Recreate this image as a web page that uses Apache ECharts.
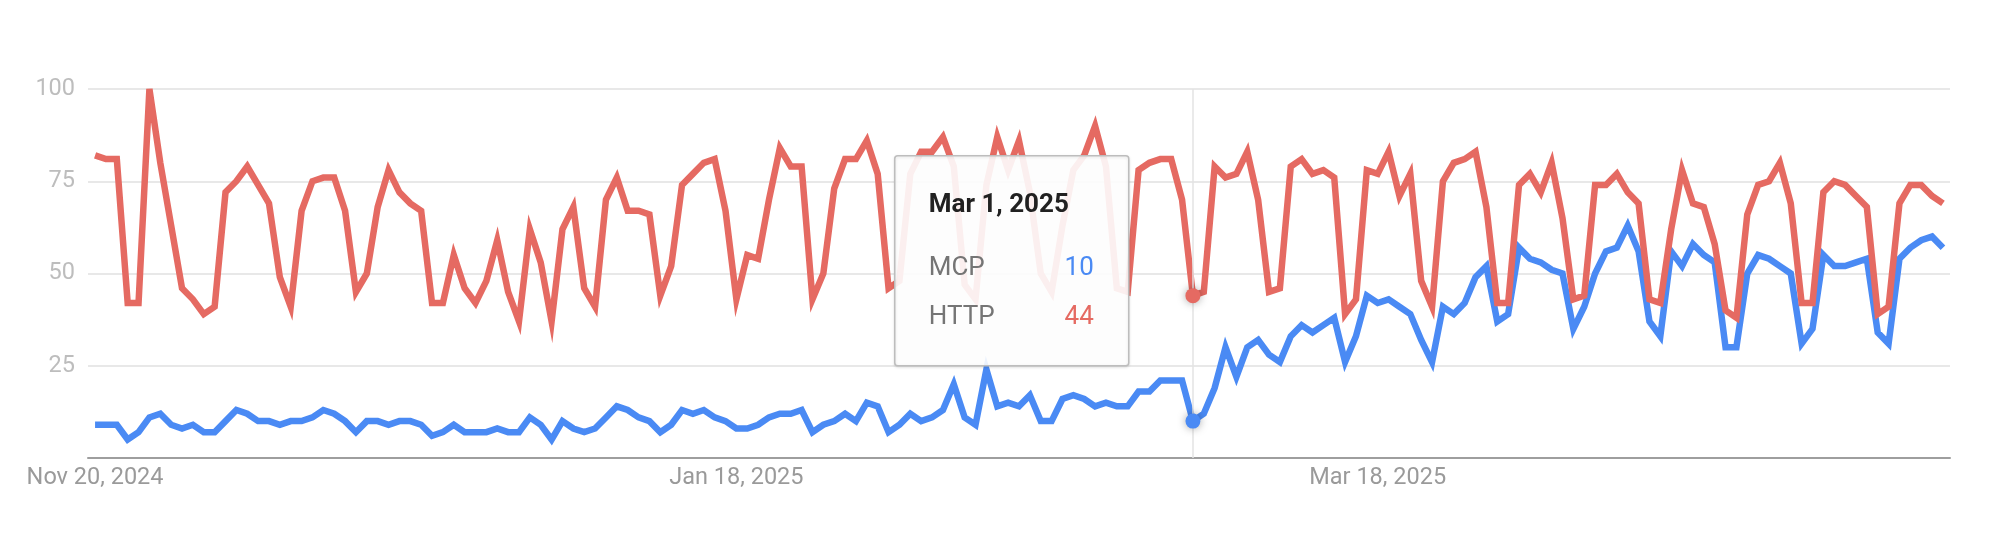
<!DOCTYPE html>
<html>
<head>
<meta charset="utf-8">
<script src="https://cdn.jsdelivr.net/npm/echarts@6/dist/echarts.min.js"></script>
<style>
html,body{margin:0;padding:0;background:#fff;}
#chart{width:1994px;height:534px;}
</style>
</head>
<body>
<div id="chart"></div>
<script>
// Daily categories: Nov 20, 2024 .. May 9, 2025
var START_DATE = '2024-11-20';
var DAY_COUNT = 171;
var MONTHS = ['Jan','Feb','Mar','Apr','May','Jun','Jul','Aug','Sep','Oct','Nov','Dec'];
var categories = [];
(function(){
  var d0 = new Date(START_DATE + 'T00:00:00Z');
  for (var i = 0; i < DAY_COUNT; i++) {
    var d = new Date(d0.getTime() + i * 86400000);
    categories.push(MONTHS[d.getUTCMonth()] + ' ' + d.getUTCDate() + ', ' + d.getUTCFullYear());
  }
})();

var labelledDates = ['Nov 20, 2024', 'Jan 18, 2025', 'Mar 18, 2025'];
var yTicks = [0, 25, 50, 75, 100];

var mcp = [
  9,9,9,5,7,11,12,9,8,9,
  7,7,10,13,12,10,10,9,10,10,
  11,13,12,10,7,10,10,9,10,10,
  9,6,7,9,7,7,7,8,7,7,
  11,9,5,10,8,7,8,11,14,13,
  11,10,7,9,13,12,13,11,10,8,
  8,9,11,12,12,13,7,9,10,12,
  10,15,14,7,9,12,10,11,13,20,
  11,9,24,14,15,14,17,10,10,16,
  17,16,14,15,14,14,18,18,21,21,
  21,10,12,19,30,22,30,32,28,26,
  33,36,34,36,38,26,33,44,42,43,
  41,39,32,26,41,39,42,49,52,37,
  39,57,54,53,51,50,35,41,50,56,
  57,63,56,37,33,56,52,58,55,53,
  30,30,50,55,54,52,50,31,35,55,
  52,52,53,54,34,31,54,57,59,60,57
];

var http = [
  82,81,81,42,42,100,80,63,46,43,
  39,41,72,75,79,74,69,49,41,67,
  75,76,76,67,45,50,68,78,72,69,
  67,42,42,55,46,42,48,59,45,37,
  62,53,37,62,68,46,41,70,76,67,
  67,66,44,52,74,77,80,81,67,43,
  55,54,70,84,79,79,43,50,73,81,
  81,86,77,46,48,77,83,83,87,79,
  47,43,74,87,78,86,72,50,45,63,
  78,82,90,79,46,45,78,80,81,81,
  70,44,45,79,76,77,83,70,45,46,
  79,81,77,78,76,39,43,78,77,83,
  71,77,48,41,75,80,81,83,68,42,
  42,74,77,72,80,65,43,44,74,74,
  77,72,69,43,42,62,78,69,68,58,
  40,38,66,74,75,80,69,42,42,72,
  75,74,71,68,39,41,69,74,74,71,69
];

var HOVER_DATE = 'Mar 1, 2025';
var hoverIndex = categories.indexOf(HOVER_DATE);

var BLUE = '#4a8af4';
var RED = '#e56a62';
var FONT = 'Roboto, "Noto Sans", Arial, sans-serif';

var labelIndices = labelledDates.map(function (s) { return categories.indexOf(s); });
function pairs(arr) { return arr.map(function (v, i) { return [i, v]; }); }

var chart = echarts.init(document.getElementById('chart'), null, {renderer: 'canvas'});

function dot(color, value) {
  return {
    coord: [hoverIndex, value],
    symbol: 'circle',
    symbolSize: 15,
    itemStyle: {color: color, shadowColor: 'rgba(0,0,0,0.35)', shadowBlur: 8},
    label: {show: false}
  };
}

var PAD = 0.65; // small inset of first/last day from the plot edges

var option = {
  animation: false,
  textStyle: {fontFamily: FONT},
  grid: {left: 88, right: 44, top: 89, bottom: 76, containLabel: false},
  xAxis: {
    type: 'value',
    min: -PAD,
    max: DAY_COUNT - 1 + PAD,
    axisLine: {show: true, onZero: false, lineStyle: {color: '#9e9e9e', width: 2}},
    axisTick: {show: false},
    splitLine: {show: false},
    axisLabel: {
      customValues: labelIndices,
      hideOverlap: false,
      formatter: function (v) { return categories[Math.round(v)] || ''; },
      color: '#9a9a9a',
      fontSize: 23.5,
      fontFamily: FONT,
      margin: 8
    }
  },
  yAxis: {
    type: 'value',
    min: yTicks[0],
    max: yTicks[yTicks.length - 1],
    interval: 25,
    axisLine: {show: false},
    axisTick: {show: false},
    splitLine: {lineStyle: {color: '#e0e0e0', width: 1.5}},
    axisLabel: {
      formatter: function (v) { return v === 0 ? '' : String(v); },
      color: '#bdbdbd',
      fontSize: 23.5,
      fontFamily: FONT,
      margin: 13
    }
  },
  series: [
    {
      name: 'MCP',
      type: 'line',
      data: pairs(mcp),
      symbol: 'none',
      lineStyle: {color: BLUE, width: 6.5, join: 'miter'},
      itemStyle: {color: BLUE},
      z: 2,
      markLine: {
        silent: true,
        symbol: 'none',
        label: {show: false},
        lineStyle: {color: '#e3e3e3', width: 1.5, type: 'solid'},
        data: [{xAxis: hoverIndex}]
      },
      markPoint: {silent: true, data: [dot(BLUE, mcp[hoverIndex])]}
    },
    {
      name: 'HTTP',
      type: 'line',
      data: pairs(http),
      symbol: 'none',
      lineStyle: {color: RED, width: 6.5, join: 'miter'},
      itemStyle: {color: RED},
      z: 3,
      markPoint: {silent: true, data: [dot(RED, http[hoverIndex])]}
    }
  ],
  graphic: {
    elements: [
      {
        type: 'group',
        left: 894,
        top: 155,
        z: 100,
        zlevel: 1,
        children: [
          {
            type: 'rect', z: 100, zlevel: 1,
            shape: {x: 0, y: 0, width: 234, height: 210, r: 3},
            style: {fill: 'rgba(255,255,255,0.9)', stroke: '#bdbdbd', lineWidth: 1.5,
                    shadowColor: 'rgba(0,0,0,0.12)', shadowBlur: 3, shadowOffsetY: 1}
          },
          {
            type: 'text', z: 101, zlevel: 1,
            style: {x: 34, y: 50, text: HOVER_DATE, fill: '#212121', font: 'bold 26px ' + FONT, textVerticalAlign: 'middle'}
          },
          {
            type: 'text', z: 101, zlevel: 1,
            style: {x: 34, y: 113, text: 'MCP', fill: '#757575', font: '26px ' + FONT, textVerticalAlign: 'middle'}
          },
          {
            type: 'text', z: 101, zlevel: 1,
            style: {x: 199, y: 113, text: String(mcp[hoverIndex]), fill: BLUE, font: '26px ' + FONT, textAlign: 'right', textVerticalAlign: 'middle'}
          },
          {
            type: 'text', z: 101, zlevel: 1,
            style: {x: 34, y: 162, text: 'HTTP', fill: '#757575', font: '26px ' + FONT, textVerticalAlign: 'middle'}
          },
          {
            type: 'text', z: 101, zlevel: 1,
            style: {x: 199, y: 162, text: String(http[hoverIndex]), fill: RED, font: '26px ' + FONT, textAlign: 'right', textVerticalAlign: 'middle'}
          }
        ]
      }
    ]
  }
};

chart.setOption(option);
</script>
</body>
</html>
